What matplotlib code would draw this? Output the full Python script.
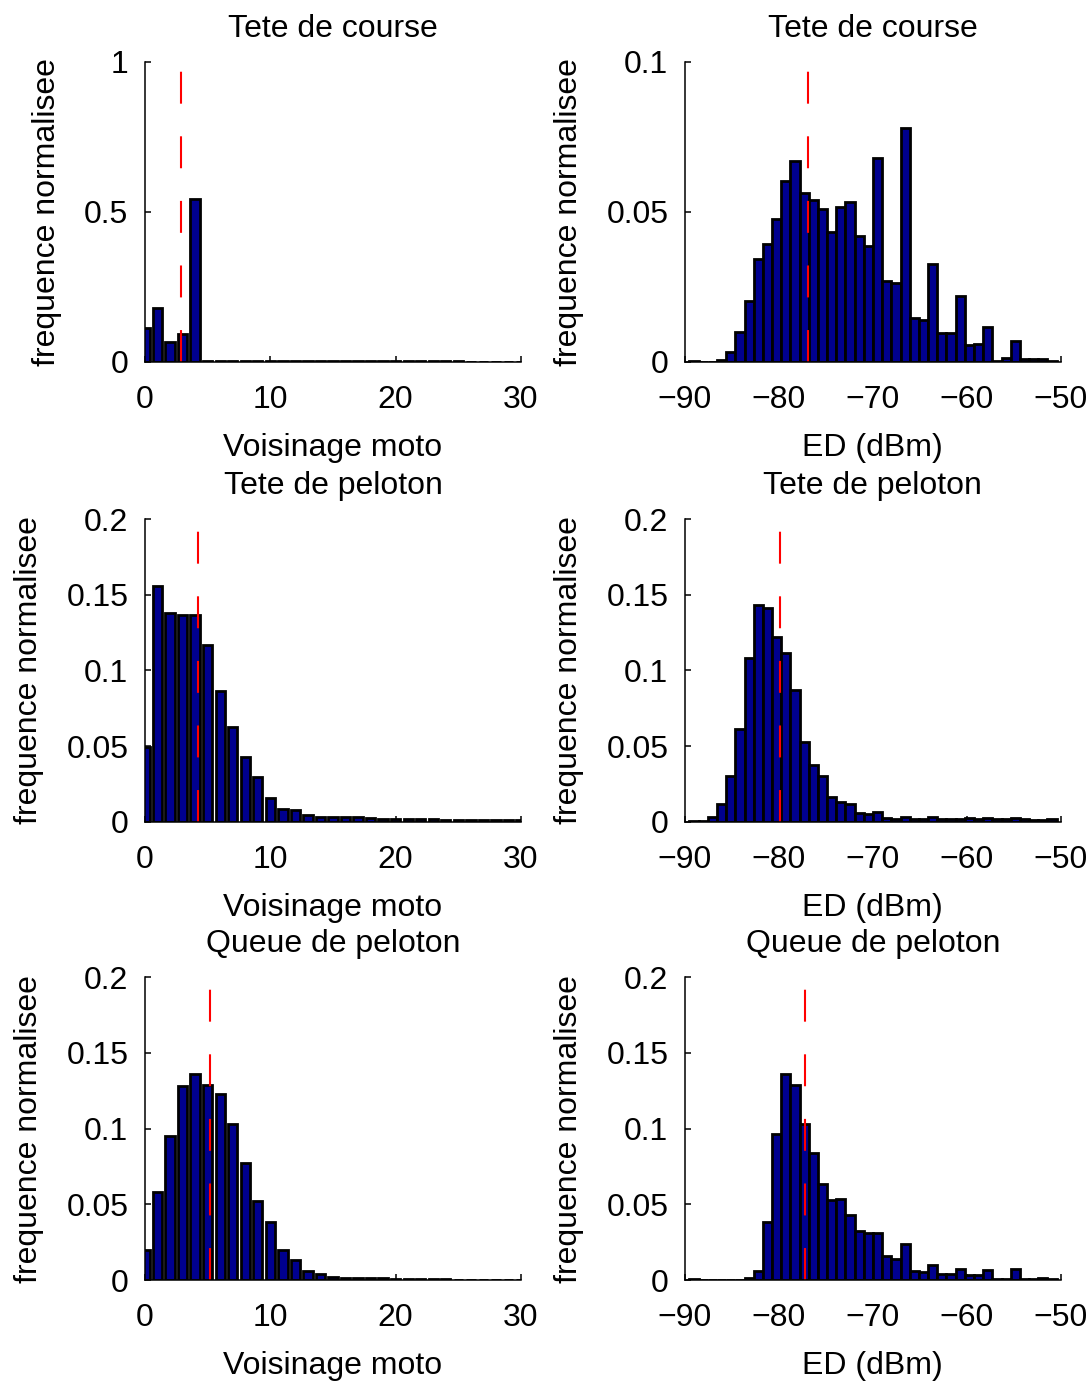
import numpy as np
import matplotlib
matplotlib.use("Agg")
import matplotlib.pyplot as plt

plt.rcParams['font.family'] = ['Liberation Sans', 'DejaVu Sans']
plt.rcParams['lines.scale_dashes'] = False

# ---------------- data ----------------
titles = ["Tete de course", "Tete de peloton", "Queue de peloton"]
xlabel_left = "Voisinage moto"
xlabel_right = "ED (dBm)"
ylabel_text = "frequence normalisee"

voisinage_bins = np.arange(0, 31)
ed_bins = np.linspace(-89.04, -50.92, 40)

voisinage_course = [0.111, 0.178, 0.067, 0.093, 0.542, 0.003, 0.002, 0.002, 0.001, 0.001,
                    0.001, 0.001, 0.001, 0.001, 0.001, 0.001, 0.001, 0.001, 0.001, 0.001,
                    0.001, 0.001, 0.001, 0.001, 0.001, 0.001, 0, 0, 0, 0, 0]
voisinage_tete = [0.0496, 0.156, 0.138, 0.137, 0.137, 0.117, 0.0866, 0.0624, 0.043, 0.0294,
                  0.0159, 0.0086, 0.0077, 0.0044, 0.0033, 0.0033, 0.003, 0.003, 0.0026, 0.002,
                  0.0015, 0.002, 0.0018, 0.0018, 0.0013, 0.0012, 0.0012, 0.001, 0.001, 0.001, 0.0012]
voisinage_queue = [0.0198, 0.0582, 0.0954, 0.128, 0.136, 0.129, 0.1227, 0.103, 0.0771, 0.0522,
                   0.0381, 0.0198, 0.0132, 0.0062, 0.0037, 0.0022, 0.0015, 0.0013, 0.001, 0.001,
                   0.0008, 0.0008, 0.0006, 0.0005, 0.0005, 0, 0, 0, 0, 0, 0]

ed_course = [0.0003, 0, 0, 0.0007, 0.0033, 0.0098, 0.0202, 0.0341, 0.0391, 0.0475,
             0.0602, 0.0669, 0.0561, 0.054, 0.051, 0.0433, 0.0515, 0.0533, 0.042, 0.0387,
             0.068, 0.027, 0.0263, 0.0778, 0.0147, 0.0139, 0.0325, 0.0097, 0.0097, 0.0219,
             0.0056, 0.0058, 0.0115, 0.0002, 0.0011, 0.007, 0.0008, 0.0008, 0.001, 0.0003]
ed_tete = [0.0005, 0.0005, 0.0033, 0.0117, 0.0304, 0.0613, 0.108, 0.1435, 0.1415, 0.1224,
           0.1114, 0.0871, 0.0525, 0.0375, 0.0302, 0.0165, 0.0132, 0.0117, 0.0055, 0.0049,
           0.0062, 0.0024, 0.0015, 0.0033, 0.0018, 0.0018, 0.0033, 0.0015, 0.0015, 0.002,
           0.0024, 0.0015, 0.0024, 0.0015, 0.0015, 0.0022, 0.0015, 0.0012, 0.0012, 0.0015]
ed_queue = [0.0005, 0, 0, 0, 0, 0, 0.001, 0.006, 0.0383, 0.0965,
            0.136, 0.1287, 0.1033, 0.0839, 0.0634, 0.0527, 0.0535, 0.0432, 0.0326, 0.0311,
            0.0311, 0.0161, 0.0141, 0.0238, 0.006, 0.0053, 0.0099, 0.0037, 0.0042, 0.0075,
            0.0035, 0.0035, 0.0066, 0.0004, 0.0008, 0.0075, 0.0008, 0.0008, 0.001, 0.0004]

mean_voisinage = [2.85, 4.2, 5.21]
mean_ed = [-76.93, -79.88, -77.25]

ylims = [1.0, 0.1, 0.2, 0.2, 0.2, 0.2]
yticks_list = [
    [0, 0.5, 1], [0, 0.05, 0.1],
    [0, 0.05, 0.1, 0.15, 0.2], [0, 0.05, 0.1, 0.15, 0.2],
    [0, 0.05, 0.1, 0.15, 0.2], [0, 0.05, 0.1, 0.15, 0.2],
]
yticklabels_list = [
    ["0", "0.5", "1"], ["0", "0.05", "0.1"],
    ["0", "0.05", "0.1", "0.15", "0.2"], ["0", "0.05", "0.1", "0.15", "0.2"],
    ["0", "0.05", "0.1", "0.15", "0.2"], ["0", "0.05", "0.1", "0.15", "0.2"],
]
xticks_left = [0, 10, 20, 30]
xticks_right = [-90, -80, -70, -60, -50]

# ---------------- figure ----------------
W, H = 1087, 1382
fig = plt.figure(figsize=(W / 100, H / 100), dpi=100)

col_left = [145 / W, 685 / W]
col_width = [376 / W, 375.7 / W]
row_top = [61.7, 519.3, 977.3]
row_height = [300, 302.4, 302.7]

left_data = [voisinage_course, voisinage_tete, voisinage_queue]
right_data = [ed_course, ed_tete, ed_queue]

FS = 23
bar_color = '#00008F'
ed_bw = ed_bins[1] - ed_bins[0]

for r in range(3):
    for c in range(2):
        k = r * 2 + c
        bottom = 1 - (row_top[r] + row_height[r]) / H
        ax = fig.add_axes([col_left[c], bottom, col_width[c], row_height[r] / H])
        if c == 0:
            ax.bar(voisinage_bins, left_data[r], width=0.74, color=bar_color,
                   edgecolor='black', linewidth=2.0, zorder=2)
            ax.set_xlim(0, 30)
            ax.set_xticks(xticks_left)
            ax.set_xticklabels([str(v) for v in xticks_left])
            xm = mean_voisinage[r]
            ax.set_xlabel(xlabel_left, fontsize=FS, labelpad=13)
        else:
            ax.bar(ed_bins, right_data[r], width=ed_bw, color=bar_color,
                   edgecolor='black', linewidth=2.0, zorder=2)
            ax.set_xlim(-90, -50)
            ax.set_xticks(xticks_right)
            ax.set_xticklabels(["\u2212" + str(abs(v)) for v in xticks_right])
            xm = mean_ed[r]
            ax.set_xlabel(xlabel_right, fontsize=FS, labelpad=13)
        ymax = ylims[k]
        ax.set_ylim(0, ymax)
        ax.plot([xm, xm], [0, ymax], color='red', linewidth=1.5,
                dashes=(23, 23.5), zorder=3, clip_on=False)
        ax.set_yticks(yticks_list[k])
        ax.set_yticklabels(yticklabels_list[k])
        ax.set_ylabel(ylabel_text, fontsize=FS, labelpad=16)
        ax.set_title(titles[r], fontsize=FS, pad=18)
        for s in ['top', 'right']:
            ax.spines[s].set_visible(False)
        for s in ['left', 'bottom']:
            ax.spines[s].set_linewidth(1.1)
            ax.spines[s].set_zorder(4)
        ax.tick_params(direction='in', length=4, width=1.1, labelsize=FS,
                       top=False, right=False)
        ax.tick_params(axis='x', pad=16.5)
        ax.tick_params(axis='y', pad=12)
        ax.set_facecolor('white')

fig.savefig("out.png", dpi=100, facecolor='white')
